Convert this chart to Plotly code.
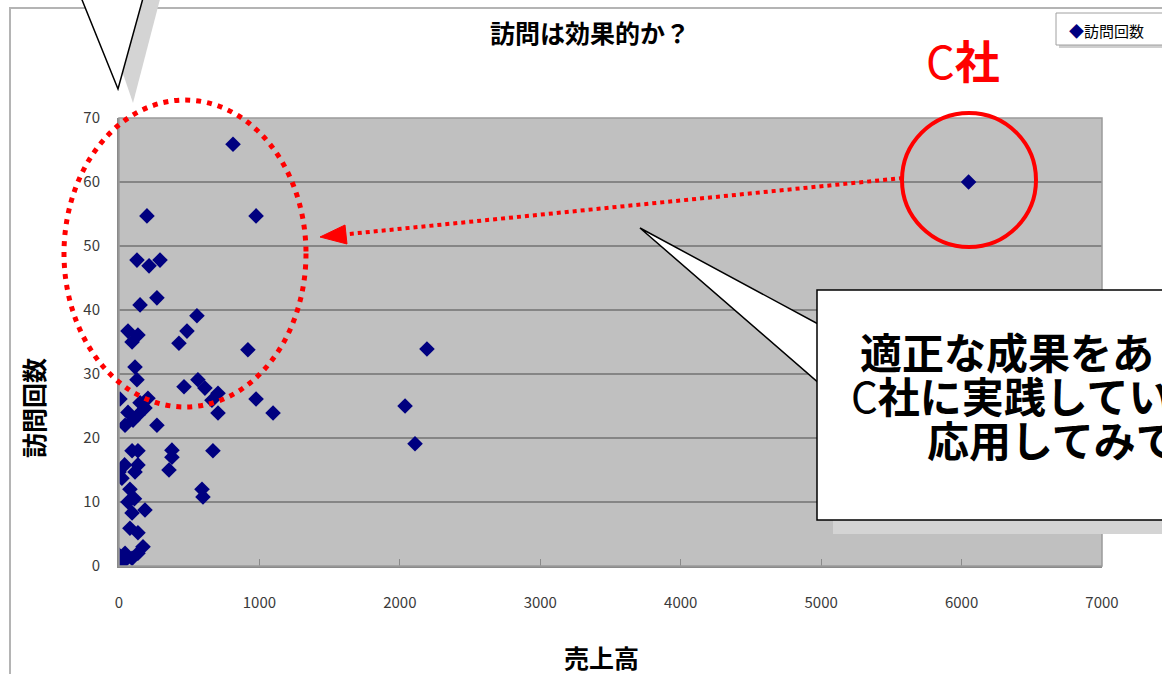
import plotly.graph_objects as go

# 売上高 (sales) and 訪問回数 (number of visits) per customer
sales = [
    0, 43, 93, 0, 43, 135, 171, 135, 78, 93, 185, 64, 78, 21, 0, 114, 135, 93, 135,
    356, 377, 377, 669, 591, 598, 43, 100, 64, 135, 185, 270, 7, 206, 463, 562, 612,
    705, 662, 705, 976, 1097, 114, 128, 64, 135, 93, 918, 427, 484, 555, 150, 270,
    128, 214, 292, 199, 976, 812, 6050, 2193, 2037, 2108, 40, 150, 110, 20,
]
visits = [
    0, 0.9, 1.2, 1.7, 2, 2, 3, 5.2, 5.9, 8.3, 8.75, 10, 12, 13.7, 14.7, 14.7, 15.8, 18, 18,
    15, 17, 18.1, 18, 12, 10.8, 22, 22.8, 24, 23.6, 24.7, 22, 26.1, 26.2, 28, 29.1, 27.8,
    27, 25.9, 23.9, 26.1, 23.9, 31.1, 29.1, 36.7, 36.1, 35, 33.8, 34.8, 36.7, 39.1, 40.8, 41.9,
    47.8, 46.9, 47.8, 54.7, 54.7, 65.9, 60, 33.9, 25, 19.1, 15.8, 25.5, 10.5, 0.5,
]
x_ticks = [0, 1000, 2000, 3000, 4000, 5000, 6000, 7000]
y_ticks = [0, 10, 20, 30, 40, 50, 60, 70]

W, H = 1162, 674
ML, MR, MT, MB = 119, 60, 118, 108
PW, PH = W - ML - MR, H - MT - MB

JP = "Noto Sans CJK JP"


def px(x):
    return (x - ML) / PW


def py(y):
    return (H - MB - y) / PH


def path(points):
    return "M " + " L ".join(f"{px(a):.5f},{py(b):.5f}" for a, b in points) + " Z"


fig = go.Figure()
fig.add_trace(go.Scatter(
    x=sales, y=visits, mode="markers", name="訪問回数",
    marker=dict(symbol="diamond", size=12, color="#000080", line=dict(width=0)),
    showlegend=False,
))

shapes = []
# chart frame
shapes.append(dict(type="rect", xref="paper", yref="paper",
                   x0=px(10), x1=px(1300), y0=py(8), y1=py(800),
                   line=dict(color="#b4b4b4", width=2), layer="below"))
# plot area border
shapes.append(dict(type="rect", xref="paper", yref="paper", x0=0, x1=1, y0=0, y1=1,
                   line=dict(color="#9a9a9a", width=1.5)))

# top-left callout tail with shadow
shapes.append(dict(type="path", xref="paper", yref="paper",
                   path=path([(91, -20), (165, -20), (133, 103)]),
                   fillcolor="#d4d4d4", line=dict(width=0)))
shapes.append(dict(type="path", xref="paper", yref="paper",
                   path=path([(74, -20), (148, -20), (118, 89)]),
                   fillcolor="white", line=dict(color="black", width=1.5)))

# red dotted ellipse around the low-sales cluster
shapes.append(dict(type="circle", xref="paper", yref="paper",
                   x0=px(64), x1=px(306), y0=py(100), y1=py(407),
                   line=dict(color="#ff0000", width=5, dash="5px,6px")))

# red circle around C社
shapes.append(dict(type="circle", xref="paper", yref="paper",
                   x0=px(902), x1=px(1036), y0=py(113), y1=py(247),
                   line=dict(color="#ff0000", width=4)))

# dotted arrow from C社 to the cluster
shapes.append(dict(type="line", xref="paper", yref="paper",
                   x0=px(903), y0=py(178), x1=px(344), y1=py(234.5),
                   line=dict(color="#ff0000", width=4, dash="4px,4px")))
shapes.append(dict(type="path", xref="paper", yref="paper",
                   path=path([(320, 237), (347, 244), (345, 225)]),
                   fillcolor="#ff0000", line=dict(color="#ff0000", width=1)))

# speech bubble on the right: shadow, tail, box
shapes.append(dict(type="rect", xref="paper", yref="paper",
                   x0=px(833), x1=px(1300), y0=py(305), y1=py(534),
                   fillcolor="#d4d4d4", line=dict(width=0)))
shapes.append(dict(type="path", xref="paper", yref="paper",
                   path=path([(640, 228), (820, 325), (820, 384)]),
                   fillcolor="white", line=dict(color="black", width=1.5)))
shapes.append(dict(type="rect", xref="paper", yref="paper",
                   x0=px(817), x1=px(1300), y0=py(290), y1=py(520),
                   fillcolor="white", line=dict(color="black", width=1.5)))

# legend box
shapes.append(dict(type="rect", xref="paper", yref="paper",
                   x0=px(1059), x1=px(1300), y0=py(15), y1=py(48),
                   fillcolor="#cfcfcf", line=dict(width=0)))
shapes.append(dict(type="rect", xref="paper", yref="paper",
                   x0=px(1056), x1=px(1300), y0=py(13), y1=py(45),
                   fillcolor="white", line=dict(color="#a0a0a0", width=1)))

annotations = [
    dict(text="訪問は効果的か？", x=px(590), y=py(32), font=dict(size=25, weight="bold")),
    dict(text="売上高", x=px(601), y=py(657), font=dict(size=25, weight="bold")),
    dict(text="訪問回数", x=px(33), y=py(408), textangle=-90, font=dict(size=25, weight="bold")),
    dict(text="C<b>社</b>", x=px(963), y=py(60), font=dict(size=45, color="#ff0000")),
    dict(text="<span style='color:#000080'>◆</span>訪問回数", x=px(1067), y=py(30),
         xanchor="left", font=dict(size=15)),
    dict(text="<b>適正な成果をあ</b>", x=px(858), y=py(350), xanchor="left",
         font=dict(size=42)),
    dict(text="C<b>社に実践してい</b>", x=px(849), y=py(394), xanchor="left",
         font=dict(size=42)),
    dict(text="<b>応用してみて</b>", x=px(925), y=py(438), xanchor="left",
         font=dict(size=42)),
]
for a in annotations:
    a.setdefault("xanchor", "center")
    a.update(xref="paper", yref="paper", yanchor="middle", showarrow=False)
    a["font"].setdefault("color", "black")
    a["font"]["family"] = JP

fig.update_layout(
    width=W, height=H,
    margin=dict(l=ML, r=MR, t=MT, b=MB),
    paper_bgcolor="white", plot_bgcolor="#c0c0c0",
    font=dict(family=JP, color="#3a3a3a"),
    shapes=shapes, annotations=annotations,
)
fig.update_xaxes(range=[0, 7000], tickvals=x_ticks, ticks="inside", ticklen=7,
                 tickcolor="#8a8a8a", showgrid=False, zeroline=False,
                 showline=True, linecolor="#8a8a8a", linewidth=2,
                 tickfont=dict(size=15, family=JP, color="#3a3a3a"),
                 ticklabelstandoff=22)
fig.update_yaxes(range=[0, 70], tickvals=y_ticks, ticks="", showgrid=True,
                 gridcolor="#858585", gridwidth=1.5, zeroline=False,
                 showline=True, linecolor="#8a8a8a", linewidth=2,
                 tickfont=dict(size=15, family=JP, color="#3a3a3a"),
                 ticklabelstandoff=14)

fig.write_html("out.html")
